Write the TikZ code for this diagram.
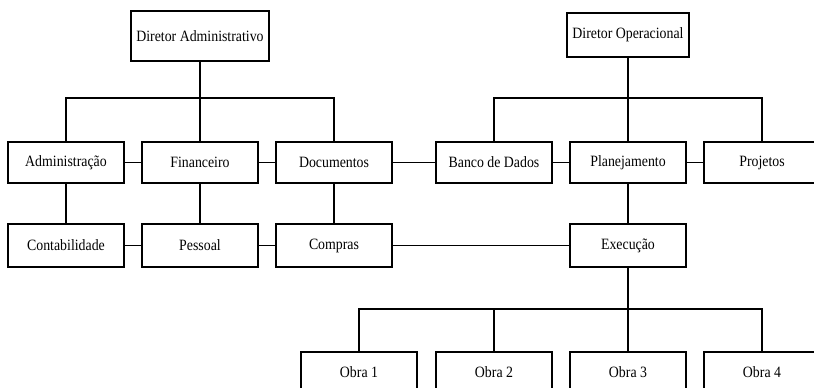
\documentclass[tikz,border=0pt]{standalone}
\usepackage{fontspec}
\setmainfont{Liberation Serif}[FakeStretch=0.88]
\usetikzlibrary{positioning}

\tikzset{
  cargo/.style={draw,line width=1.6pt,fill=white,minimum width=87pt,
    minimum height=31pt,inner sep=2pt,font=\fontsize{11.8}{13}\selectfont},
  liga/.style={line width=1.3pt}
}

\begin{document}
\begin{tikzpicture}[x=0.75pt,y=-0.75pt]
  \useasboundingbox (0,0) rectangle (814,388);
  \clip (0,0) rectangle (814,388);

  % diretores
  \node[cargo,minimum width=104pt,minimum height=37pt] (dirAdm) at (200,36) {Diretor Administrativo};
  \node[cargo,minimum width=91pt,minimum height=33pt] (dirOp) at (628,35) {Diretor Operacional};

  % primeira linha
  \node[cargo] (adm)   at (66,162.5)  {Administração};
  \node[cargo] (fin)   at (200,162.5) {Financeiro};
  \node[cargo] (doc)   at (334,162.5) {Documentos};
  \node[cargo] (banco) at (494,162.5) {Banco de Dados};
  \node[cargo] (plan)  at (628,162.5) {Planejamento};
  \node[cargo] (proj)  at (762,162.5) {Projetos};

  % segunda linha
  \node[cargo,minimum height=32pt] (cont) at (66,245.5)  {Contabilidade};
  \node[cargo,minimum height=32pt] (pess) at (200,245.5) {Pessoal};
  \node[cargo,minimum height=32pt] (comp) at (334,245.5) {Compras};
  \node[cargo,minimum height=32pt] (exec) at (628,245.5) {Execução};

  % obras
  \node[cargo] (obra1) at (359,372.5) {Obra 1};
  \node[cargo] (obra2) at (494,372.5) {Obra 2};
  \node[cargo] (obra3) at (628,372.5) {Obra 3};
  \node[cargo] (obra4) at (762,372.5) {Obra 4};

  \coordinate (barraAdm) at (200,98);
  \coordinate (barraOp) at (628,98);
  \coordinate (barraObra) at (628,309);

  \draw[liga] (dirAdm.south) -- (barraAdm);
  \draw[liga] (adm.north) |- (barraAdm) -| (doc.north);
  \draw[liga] (barraAdm) -- (fin.north);

  \draw[liga] (dirOp.south) -- (barraOp);
  \draw[liga] (banco.north) |- (barraOp) -| (proj.north);
  \draw[liga] (barraOp) -- (plan.north);

  \path[liga,draw] (adm) edge (fin)
        (fin) edge (doc)
        (doc) edge (banco)
        (banco) edge (plan)
        (plan) edge (proj)
        (cont) edge (pess)
        (pess) edge (comp)
        (comp) edge (exec)
        (adm) edge (cont)
        (fin) edge (pess)
        (doc) edge (comp)
        (plan) edge (exec);

  \draw[liga] (exec.south) -- (barraObra);
  \draw[liga] (obra1.north) |- (barraObra) -| (obra4.north);
  \draw[liga] (obra2.north) -- (obra2.north |- barraObra);
  \draw[liga] (barraObra) -- (obra3.north);
\end{tikzpicture}
\end{document}
